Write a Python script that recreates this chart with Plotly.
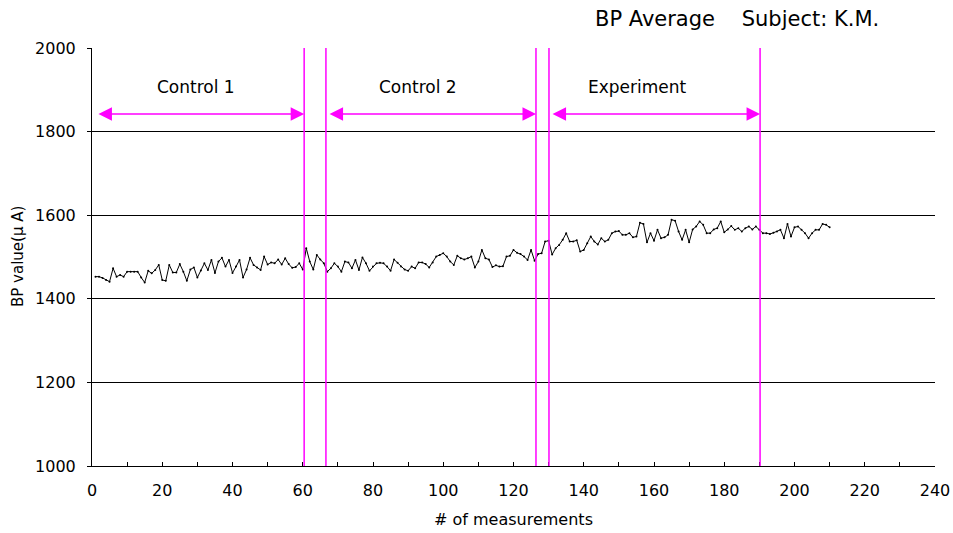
import plotly.graph_objects as go

bp_values = [
    1453, 1453, 1450, 1445, 1441, 1473, 1453, 1457, 1453, 1465,
    1465, 1465, 1465, 1451, 1439, 1467, 1461, 1469, 1481, 1445,
    1443, 1481, 1463, 1463, 1483, 1465, 1443, 1470, 1475, 1451,
    1468, 1485, 1469, 1493, 1462, 1489, 1498, 1477, 1493, 1462,
    1477, 1493, 1451, 1470, 1498, 1481, 1475, 1469, 1501, 1482,
    1487, 1485, 1494, 1482, 1497, 1483, 1474, 1476, 1485, 1470,
    1521, 1489, 1470, 1505, 1494, 1485, 1465, 1473, 1485, 1477,
    1465, 1489, 1487, 1473, 1493, 1469, 1499, 1485, 1467, 1477,
    1485, 1486, 1485, 1477, 1467, 1494, 1486, 1477, 1470, 1467,
    1477, 1473, 1487, 1487, 1483, 1475, 1487, 1501, 1505, 1509,
    1501, 1489, 1481, 1503, 1497, 1494, 1497, 1501, 1475, 1489,
    1517, 1497, 1494, 1476, 1480, 1477, 1478, 1501, 1503, 1517,
    1510, 1507, 1501, 1493, 1517, 1491, 1507, 1509, 1537, 1539,
    1506, 1521, 1529, 1541, 1557, 1537, 1537, 1540, 1513, 1517,
    1533, 1549, 1537, 1530, 1545, 1537, 1541, 1557, 1561, 1562,
    1553, 1553, 1557, 1547, 1549, 1582, 1579, 1535, 1557, 1539,
    1565, 1545, 1547, 1553, 1589, 1587, 1561, 1541, 1565, 1535,
    1566, 1573, 1585, 1577, 1557, 1557, 1566, 1569, 1585, 1559,
    1566, 1574, 1565, 1569, 1561, 1569, 1573, 1566, 1573, 1565,
    1557, 1557, 1555, 1558, 1561, 1565, 1545, 1579, 1549, 1571,
    1573, 1565, 1557, 1545, 1557, 1565, 1565, 1579, 1577, 1571,
]
measurements = list(range(1, len(bp_values) + 1))

# phase boundaries and labelled periods
boundaries = [60.4, 66.6, 126.4, 130.1, 190.2]
phase_names = ["Control 1", "Control 2", "Experiment"]
phase_starts = [1.4, 67.2, 130.7]
phase_ends = [60.4, 126.4, 190.2]
phase_label_x = [29.6, 92.8, 155.4]
arrow_level = 1842
label_level = 1907

magenta = "#FF00FF"
font = "DejaVu Sans, Liberation Sans, Arial"

fig = go.Figure()
fig.add_trace(go.Scatter(
    x=measurements, y=bp_values, mode="lines+markers",
    line=dict(color="black", width=1),
    marker=dict(color="black", size=2),
    showlegend=False,
))

# magenta boundary lines
for b in boundaries:
    fig.add_shape(type="line", xref="x", yref="y", x0=b, x1=b, y0=1000, y1=2000,
                  line=dict(color=magenta, width=1.5))

# double-headed arrows and phase labels
for name, s, e, lx in zip(phase_names, phase_starts, phase_ends, phase_label_x):
    fig.add_annotation(x=e, y=arrow_level, ax=s, ay=arrow_level,
                       xref="x", yref="y", axref="x", ayref="y",
                       showarrow=True, arrowhead=2, arrowside="end+start",
                       arrowsize=1.8, arrowwidth=1.5, arrowcolor=magenta, text="")
    fig.add_annotation(x=lx, y=label_level, xref="x", yref="y",
                       text=name, showarrow=False,
                       font=dict(size=17, color="black", family=font))

# title and axis titles (paper coords relative to the plot area)
fig.add_annotation(text="BP Average    Subject: K.M.", xref="paper", yref="paper",
                   x=(737 - 92) / 843, y=(466 - 19) / 418, xanchor="center", yanchor="middle",
                   showarrow=False, font=dict(size=21, color="black", family=font))
fig.add_annotation(text="# of measurements", xref="paper", yref="paper",
                   x=0.5, y=(466 - 519) / 418, xanchor="center", yanchor="middle",
                   showarrow=False, font=dict(size=16, color="black", family=font))
fig.add_annotation(text="BP value(μ A)", xref="paper", yref="paper",
                   x=(18 - 92) / 843, y=0.5, xanchor="center", yanchor="middle",
                   textangle=-90, showarrow=False,
                   font=dict(size=15, color="black", family=font))

fig.update_layout(
    width=953, height=533,
    margin=dict(l=92, r=18, t=48, b=67, autoexpand=False),
    paper_bgcolor="white", plot_bgcolor="white",
    font=dict(family=font, color="black"),
)
fig.update_xaxes(
    range=[0, 240], dtick=20, showgrid=False, zeroline=False, automargin=False,
    showline=True, linecolor="black", linewidth=1,
    ticks="inside", ticklen=4, tickcolor="black", ticklabelstandoff=10,
    ticklabeloverflow="allow",
    minor=dict(dtick=10, ticks="inside", ticklen=4, tickcolor="black"),
    tickfont=dict(size=16),
)
fig.update_yaxes(
    range=[1000, 2000], dtick=200, showgrid=True, gridcolor="black", gridwidth=1,
    zeroline=False, showline=True, linecolor="black", linewidth=1, automargin=False,
    ticks="outside", ticklen=4, tickcolor="black", ticklabelstandoff=8,
    tickfont=dict(size=16),
)

# drop the default page margin so the chart sits at the window's corner
fig.write_html("out.html", config={"displayModeBar": False},
               post_script="document.body.style.margin='0';document.body.style.overflow='hidden';")
